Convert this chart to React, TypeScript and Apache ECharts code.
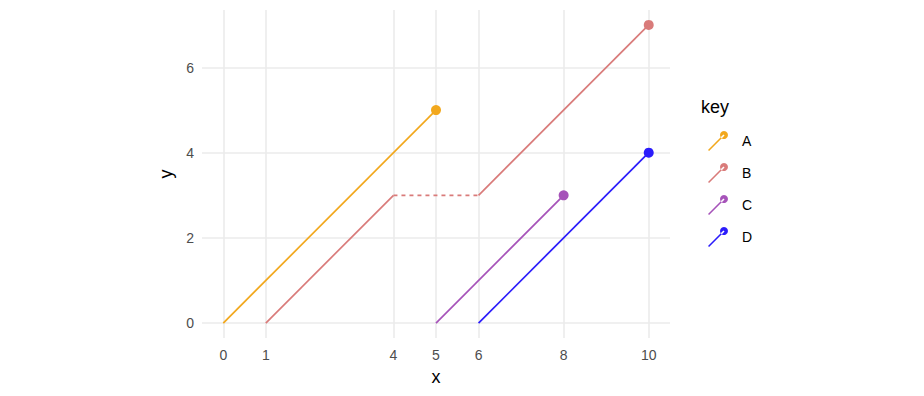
import React, { useEffect, useRef } from "react";
import * as echarts from "echarts";

const keys = ["A", "B", "C", "D"];
const colors = ["#F2A81D", "#D97B7A", "#A653B9", "#2B1CFB"];
const seriesA = [[0, 0], [5, 5]];
const seriesB1 = [[1, 0], [4, 3]];
const seriesBDashed = [[4, 3], [6, 3]];
const seriesB2 = [[6, 3], [10, 7]];
const seriesC = [[5, 0], [8, 3]];
const seriesD = [[6, 0], [10, 4]];
const xBreaks = [0, 1, 4, 5, 6, 8, 10];
const yBreaks = [0, 2, 4, 6];

const FONT = "'Liberation Sans', Arial, sans-serif";
const ICON =
  "path://M0,18.9 L1.1,20 L16.55,4.55 L15.45,3.45 Z M20,4 A4,4 0 1 1 20,3.99 Z";

function withEndPoint(pts: number[][], withPoint: boolean) {
  return pts.map((p, i) =>
    i === pts.length - 1 && withPoint
      ? { value: p, symbol: "circle", symbolSize: 10 }
      : { value: p, symbol: "none" }
  );
}

function lineSeries(name: string, color: string, pts: number[][], withPoint: boolean, dashed = false) {
  return {
    type: "line",
    name,
    data: withEndPoint(pts, withPoint),
    color,
    showSymbol: true,
    lineStyle: { color, width: 1.7, type: dashed ? [4, 4] : "solid" },
    itemStyle: { color, borderWidth: 0 },
    emphasis: { disabled: true },
    silent: true,
    z: 3,
  };
}

export default function App() {
  const ref = useRef<HTMLDivElement>(null);
  useEffect(() => {
    if (!ref.current) return;
    const chart = echarts.init(ref.current, undefined, { renderer: "svg" });
    const gridLines = [
      ...xBreaks.map((v) => ({ xAxis: v })),
      ...yBreaks.map((v) => ({ yAxis: v })),
    ];
    chart.setOption({
      animation: false,
      backgroundColor: "#ffffff",
      textStyle: { fontFamily: FONT },
      title: {
        text: "key",
        left: 696,
        top: 93,
        textStyle: { fontFamily: FONT, fontSize: 18, fontWeight: "normal", color: "#000" },
      },
      legend: {
        data: keys.map((k, i) => ({ name: k, icon: ICON, itemStyle: { color: colors[i] } })),
        orient: "vertical",
        left: 708,
        top: 131,
        padding: 0,
        itemWidth: 20,
        itemHeight: 20,
        itemGap: 12,
        selectedMode: false,
        textStyle: { fontFamily: FONT, fontSize: 14, color: "#000", padding: [2, 0, 0, 9] },
      },
      grid: { left: 202, right: 254, top: 10, bottom: 58, containLabel: false },
      xAxis: {
        type: "value",
        min: -0.5,
        max: 10.5,
        name: "x",
        nameLocation: "middle",
        nameGap: 30,
        nameTextStyle: { fontFamily: FONT, fontSize: 18, color: "#000" },
        axisLine: { show: false },
        axisTick: { show: false },
        splitLine: { show: false },
        axisLabel: {
          customValues: xBreaks,
          margin: 10,
          fontFamily: FONT,
          fontSize: 14,
          color: "#4D4D4D",
        },
      },
      yAxis: {
        type: "value",
        min: -0.35,
        max: 7.35,
        name: "y",
        nameLocation: "middle",
        nameGap: 24,
        nameTextStyle: { fontFamily: FONT, fontSize: 18, color: "#000" },
        axisLine: { show: false },
        axisTick: { show: false },
        splitLine: { show: false },
        axisLabel: {
          customValues: yBreaks,
          margin: 8,
          fontFamily: FONT,
          fontSize: 14,
          color: "#4D4D4D",
        },
      },
      series: [
        {
          type: "line",
          name: "grid",
          data: [],
          silent: true,
          z: 0,
          markLine: {
            silent: true,
            z: 0,
            symbol: ["none", "none"],
            label: { show: false },
            emphasis: { disabled: true },
            lineStyle: { color: "#EBEBEB", width: 1.6, type: "solid" },
            data: gridLines,
          },
        },
        lineSeries("A", colors[0], seriesA, true),
        lineSeries("B", colors[1], seriesB1, false),
        lineSeries("B", colors[1], seriesBDashed, false, true),
        lineSeries("B", colors[1], seriesB2, true),
        lineSeries("C", colors[2], seriesC, true),
        lineSeries("D", colors[3], seriesD, true),
      ],
    });
    return () => chart.dispose();
  }, []);
  return (
    <div
      ref={ref}
      style={{ position: "fixed", left: 0, top: 0, width: 924, height: 396 }}
    />
  );
}
